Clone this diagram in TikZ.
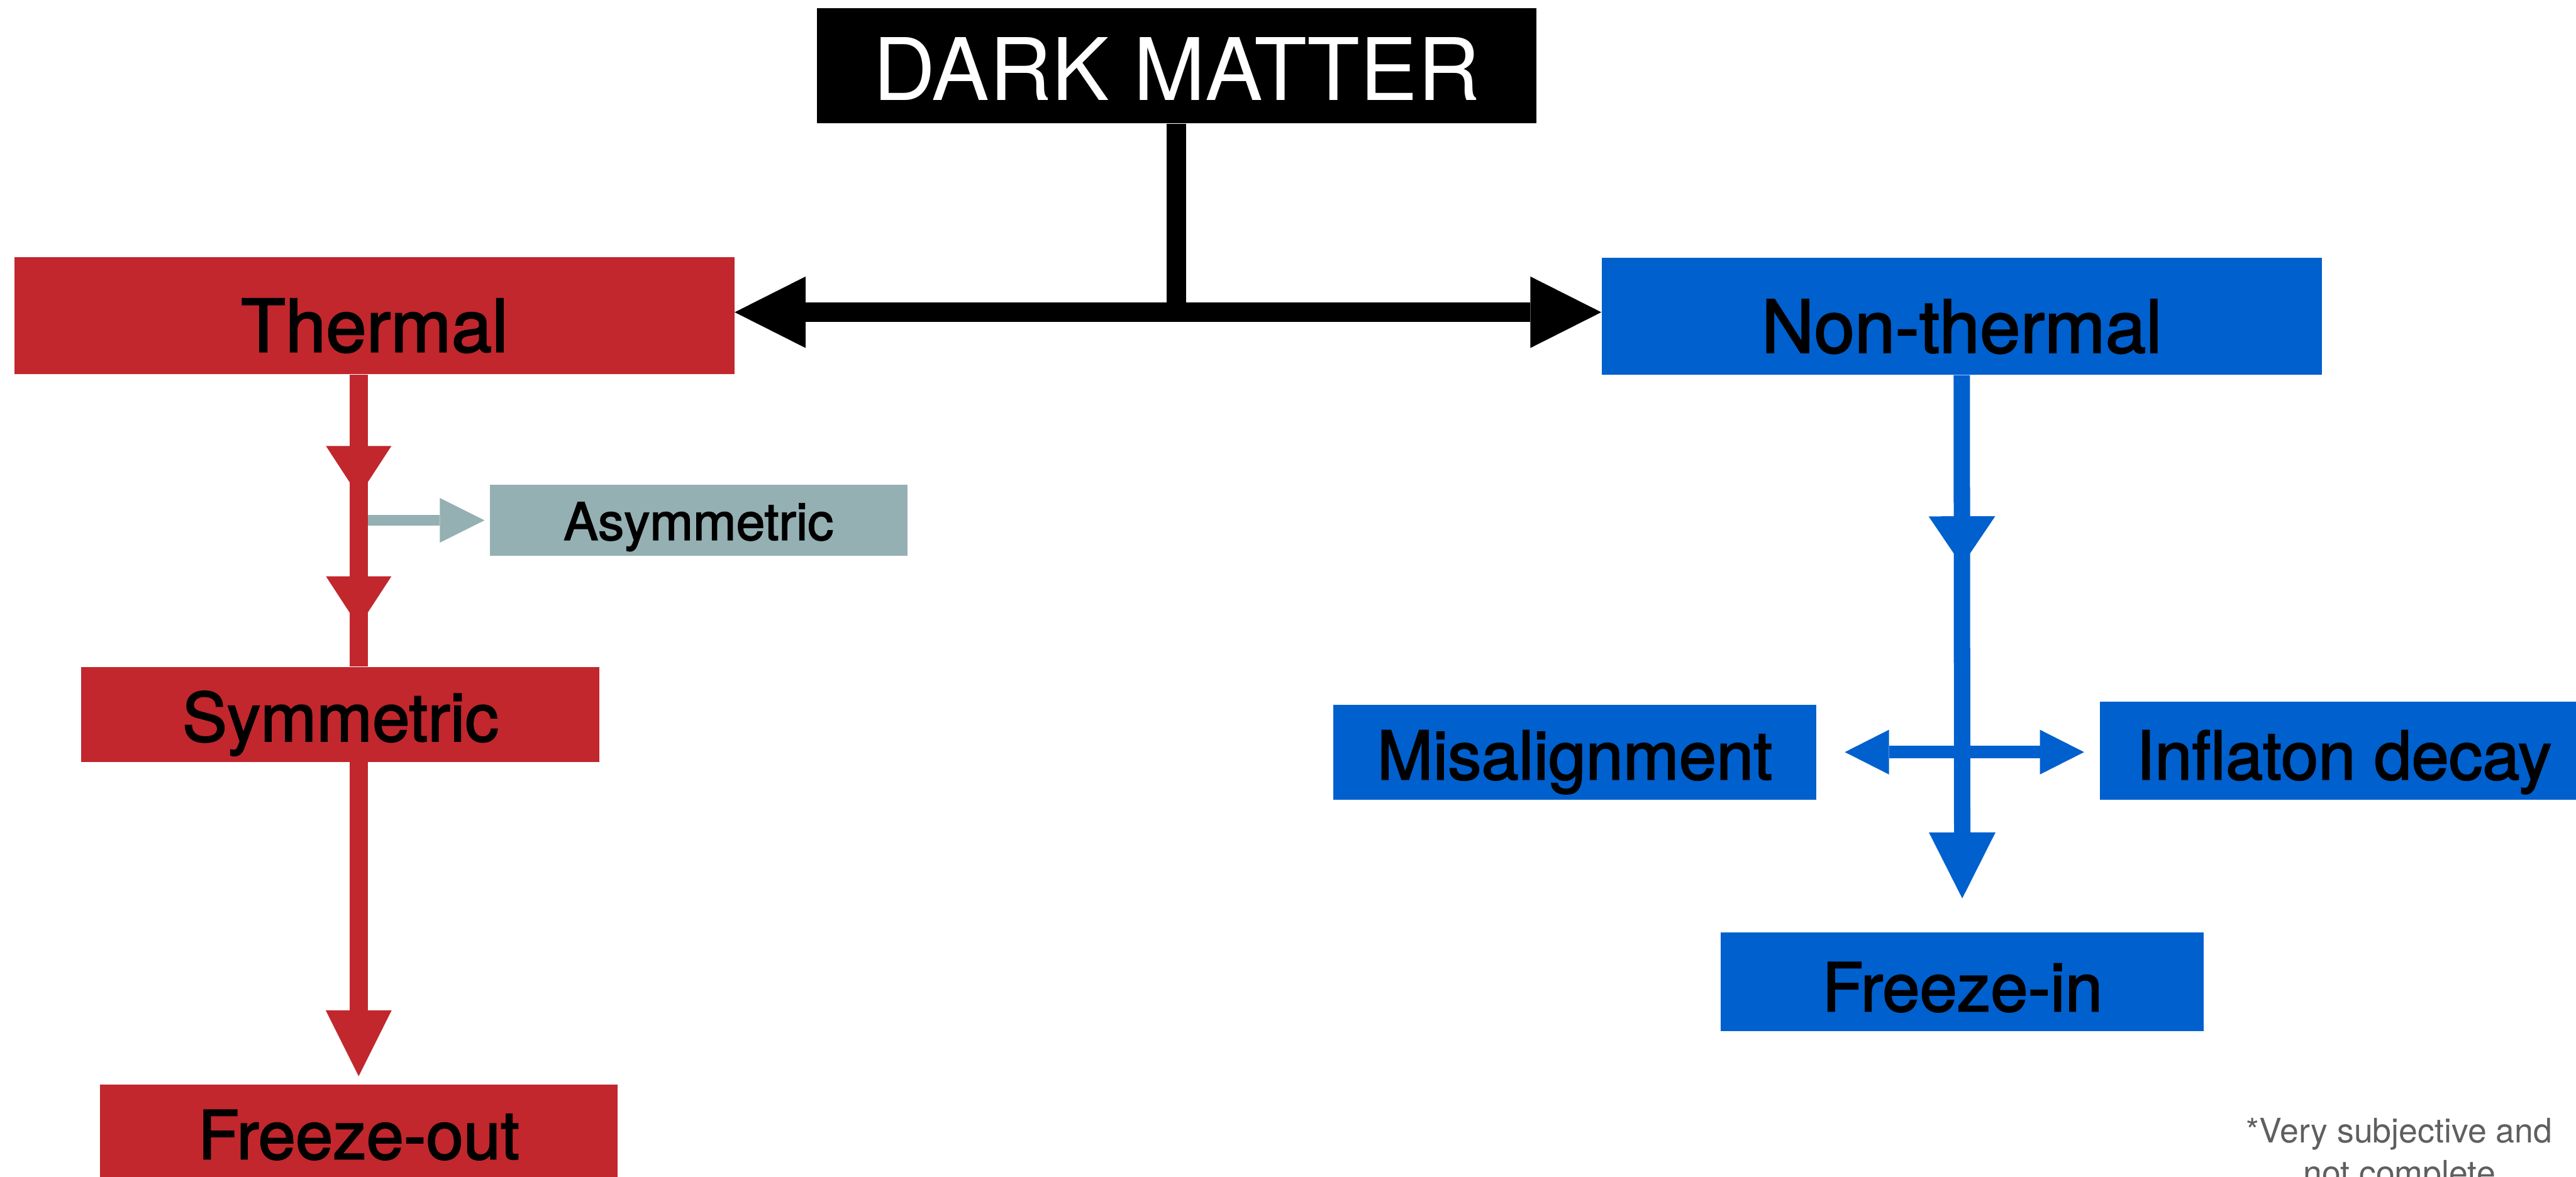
\documentclass[tikz,border=0pt]{standalone}
\usepackage{fontspec}
\setmainfont{TeX Gyre Heros}
\newfontfamily\labelfont[FakeBold=2]{TeX Gyre Heros}
\usetikzlibrary{arrows.meta,decorations.markings}
\definecolor{thermalred}{RGB}{193, 39, 45}
\definecolor{nonthermalblue}{RGB}{0, 96, 206}
\definecolor{asymgrey}{RGB}{149, 176, 178}
\definecolor{notegrey}{RGB}{95, 95, 95}

\begin{document}
\begin{tikzpicture}[
    box/.style={rectangle, inner sep=0pt, text depth=0pt, align=center},
    redbox/.style={box, fill=thermalred},
    bluebox/.style={box, fill=nonthermalblue},
    blackline/.style={line width=0.35cm, -{Triangle[length=1.3cm, width=1.31cm, line width=0pt]}},
    redline/.style={line width=0.33cm, draw=thermalred},
    blueline/.style={line width=0.30cm, draw=nonthermalblue},
]
\useasboundingbox (0,0) rectangle (47.22,-21.58);
\clip (0,0) rectangle (47.22,-21.58);

% boxes
\node[box, fill=black, text=white, minimum width=13.19cm, minimum height=2.11cm, text height=1.27cm, font=\fontsize{45}{54}\selectfont] (darkmatter) at (21.565,-1.205) {DARK MATTER};
\node[redbox,  minimum width=13.19cm, minimum height=2.15cm, text height=1.33cm, font=\labelfont\fontsize{38}{46}\selectfont] (thermal)    at ( 6.865,-5.785) {Thermal};
\node[bluebox, minimum width=13.20cm, minimum height=2.14cm, text height=1.33cm, font=\labelfont\fontsize{38}{46}\selectfont] (nonthermal) at (35.960,-5.800) {Non-thermal};
\node[box, fill=asymgrey, minimum width=7.65cm, minimum height=1.30cm, text height=0.72cm, font=\labelfont\fontsize{27}{32}\selectfont] (asymmetric) at (12.805,-9.540) {Asymmetric};
\node[redbox,  minimum width=9.50cm, minimum height=1.74cm, text height=0.98cm, font=\labelfont\fontsize{35}{42}\selectfont] (symmetric)    at ( 6.240,-13.100) {Symmetric};
\node[redbox,  minimum width=9.49cm, minimum height=1.86cm, text height=0.86cm, font=\labelfont\fontsize{35}{42}\selectfont] (freezeout)    at ( 6.575,-20.820) {Freeze-out};
\node[bluebox, minimum width=8.85cm, minimum height=1.74cm, text height=1.00cm, font=\labelfont\fontsize{35}{42}\selectfont] (misalignment) at (28.865,-13.790) {Misalignment};
\node[bluebox, minimum width=8.95cm, minimum height=1.80cm, text height=1.06cm, font=\labelfont\fontsize{35}{42}\selectfont] (inflaton)     at (42.965,-13.760) {Inflaton decay};
\node[bluebox, minimum width=8.86cm, minimum height=1.81cm, text height=1.07cm, font=\labelfont\fontsize{35}{42}\selectfont] (freezein)     at (35.970,-18.005) {Freeze-in};
\node[text=notegrey, align=center, anchor=base, font=\fontsize{17.6}{21.9}\selectfont] (note) at (43.98,-21.72) {*Very subjective and\\not complete};

% black split
\coordinate (split) at (21.565,-5.725);
\draw[line width=0.35cm] (darkmatter.south) -- (split);
\draw[blackline] (split) -- (split -| thermal.east);
\draw[blackline] (split) -- (split -| nonthermal.west);

% thermal branch
\draw[line width=0.20cm, draw=asymgrey, shorten >=0.09cm,
      -{Triangle[length=0.82cm, width=0.82cm, line width=0pt]}]
    (freezeout |- asymmetric.west) -- (asymmetric.west);
\draw[redline, postaction={decorate}, decoration={markings,
      mark=at position 2.23cm with {\arrow[thermalred]{Triangle[length=0.92cm, width=1.2cm, line width=0pt]}},
      mark=at position 4.62cm with {\arrow[thermalred]{Triangle[length=0.92cm, width=1.2cm, line width=0pt]}}}]
    (freezeout |- thermal.south) -- (freezeout |- symmetric.north);
\draw[redline, shorten >=0.15cm, -{Triangle[length=1.21cm, width=1.21cm, line width=0pt]}]
    (freezeout |- symmetric.south) -- (freezeout.north);

% non-thermal branch
\draw[line width=0.23cm, draw=nonthermalblue,
      {Triangle[length=0.81cm, width=0.82cm, line width=0pt]}-{Triangle[length=0.81cm, width=0.82cm, line width=0pt]}]
    ([xshift=5.2mm]misalignment.east) -- ([xshift=-2.8mm]misalignment.east -| inflaton.west);
\draw[blueline, shorten >=0.62cm, -{Triangle[length=1.21cm, width=1.22cm, line width=0pt]},
      postaction={decorate}, decoration={markings,
      mark=at position 3.49cm with {\arrow[nonthermalblue]{Triangle[length=0.9cm, width=1.22cm, line width=0pt]}}}]
    (nonthermal.south) -- (freezein.north);
\end{tikzpicture}
\end{document}
